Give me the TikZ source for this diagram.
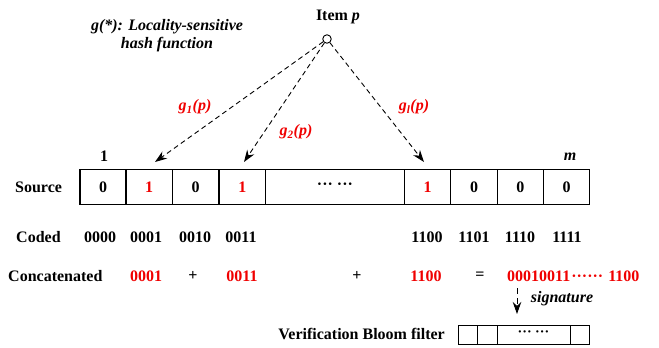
\documentclass[tikz,border=0pt]{standalone}
\usepackage{fontspec}
\setmainfont{Liberation Serif}
\usetikzlibrary{arrows.meta}
\definecolor{hred}{RGB}{240,0,0}

\begin{document}
\begin{tikzpicture}[x=1pt,y=-1pt,
  txt/.style={font=\fontsize{16}{18}\selectfont\bfseries, inner sep=0pt},
  redtxt/.style={txt, text=hred},
  hashlbl/.style={font=\fontsize{16}{18}\selectfont\bfseries\itshape, text=hred, inner sep=0pt},
  note/.style={font=\fontsize{16}{18}\selectfont\bfseries\itshape, inner sep=0pt},
  cell/.style={draw, line width=1.1pt, minimum height=35pt, inner sep=0pt,
    font=\fontsize{16}{18}\selectfont\bfseries},
  bcell/.style={draw, line width=1pt, minimum height=19pt, inner sep=0pt,
    font=\fontsize{14}{16}\selectfont\bfseries},
  link/.style={dashed, dash pattern=on 5pt off 3.5pt, line width=0.9pt,
    -{Stealth[length=12pt,width=8.5pt]}},
]
\useasboundingbox (0,0) rectangle (659,348);

% hash function caption
\node[note, align=center] (caption) at (167,36)
  {g(*): Locality-sensitive\\hash function};

% the item and its hashes
\node[txt] (itemlbl) at (338,17) {Item \textit{p}};
\node[circle, draw, line width=0.9pt, minimum size=8.5pt, inner sep=0pt] (item) at (327,39) {};

% source bit array
\node[cell, minimum width=46pt]   (s1) at (103,187)   {0};
\node[cell, minimum width=46.5pt, text=hred] (s2) at (149.2,187) {1};
\node[cell, minimum width=46.5pt] (s3) at (195.7,187) {0};
\node[cell, minimum width=46.7pt, text=hred] (s4) at (242.3,187) {1};
\node[cell, minimum width=138.6pt] (s5) at (335,187) {\raisebox{2pt}{··· ···}};
\node[cell, minimum width=46.4pt, text=hred] (s6) at (427.5,187) {1};
\node[cell, minimum width=46.6pt] (s7) at (474,187)   {0};
\node[cell, minimum width=46pt]   (s8) at (520.3,187) {0};
\node[cell, minimum width=46.4pt] (s9) at (566.5,187) {0};

\node[txt] (first) at (104,156) {1};
\node[txt, font=\fontsize{16}{18}\selectfont\bfseries\itshape] (last) at (570,157) {m};

% hash targets
\coordinate (t1) at (155,162);
\coordinate (t2) at (244,162);
\coordinate (t3) at (424,162);
\draw[link] (item) -- (t1);
\draw[link] (item) -- (t2);
\draw[link] (item) -- (t3);
\node[hashlbl] (h1) at (195,107) {g\textsubscript{1}(p)};
\node[hashlbl] (h2) at (296,132) {g\textsubscript{2}(p)};
\node[hashlbl] (h3) at (414,107) {g\textsubscript{l}(p)};

% row labels
\node[txt, anchor=west] (srclbl) at (15,187) {Source};
\node[txt, anchor=west] (codlbl) at (16,237) {Coded};
\node[txt, anchor=west] (catlbl) at (8,276) {Concatenated};

% codes of each position
\node[txt] (k1) at (100,237) {0000};
\node[txt] (k2) at (146,237) {0001};
\node[txt] (k3) at (195,237) {0010};
\node[txt] (k4) at (241,237) {0011};
\node[txt] (k6) at (427,237) {1100};
\node[txt] (k7) at (474,237) {1101};
\node[txt] (k8) at (520,237) {1110};
\node[txt] (k9) at (567,237) {1111};

% concatenation of the hit codes
\node[redtxt] (c1) at (146,276) {0001};
\node[txt]    (p1) at (193,276) {+};
\node[redtxt] (c2) at (242,276) {0011};
\node[txt]    (p2) at (357,276) {+};
\node[redtxt] (c3) at (426,276) {1100};
\node[txt]    (eq) at (480,276) {=};
\node[redtxt, anchor=west] (sig) at (507,276) {00010011\kern1pt······\kern1pt{} 1100};

% signature into the verification filter
\coordinate (sgtop) at (517,288);
\coordinate (sgbot) at (517,314);
\draw[link, dash pattern=on 6pt off 4pt] (sgtop) -- (sgbot);
\node[note] (siglbl) at (562,299) {signature};

\node[txt, anchor=east] (vbf) at (445,334) {Verification Bloom filter};
\node[bcell, minimum width=19pt] (b1) at (467.5,334.5) {};
\node[bcell, minimum width=20pt] (b2) at (487,334.5) {};
\node[bcell, minimum width=73pt] (b3) at (533.5,334.5) {\raisebox{2pt}{··· ···}};
\node[bcell, minimum width=19pt] (b4) at (579.5,334.5) {};
\end{tikzpicture}
\end{document}
